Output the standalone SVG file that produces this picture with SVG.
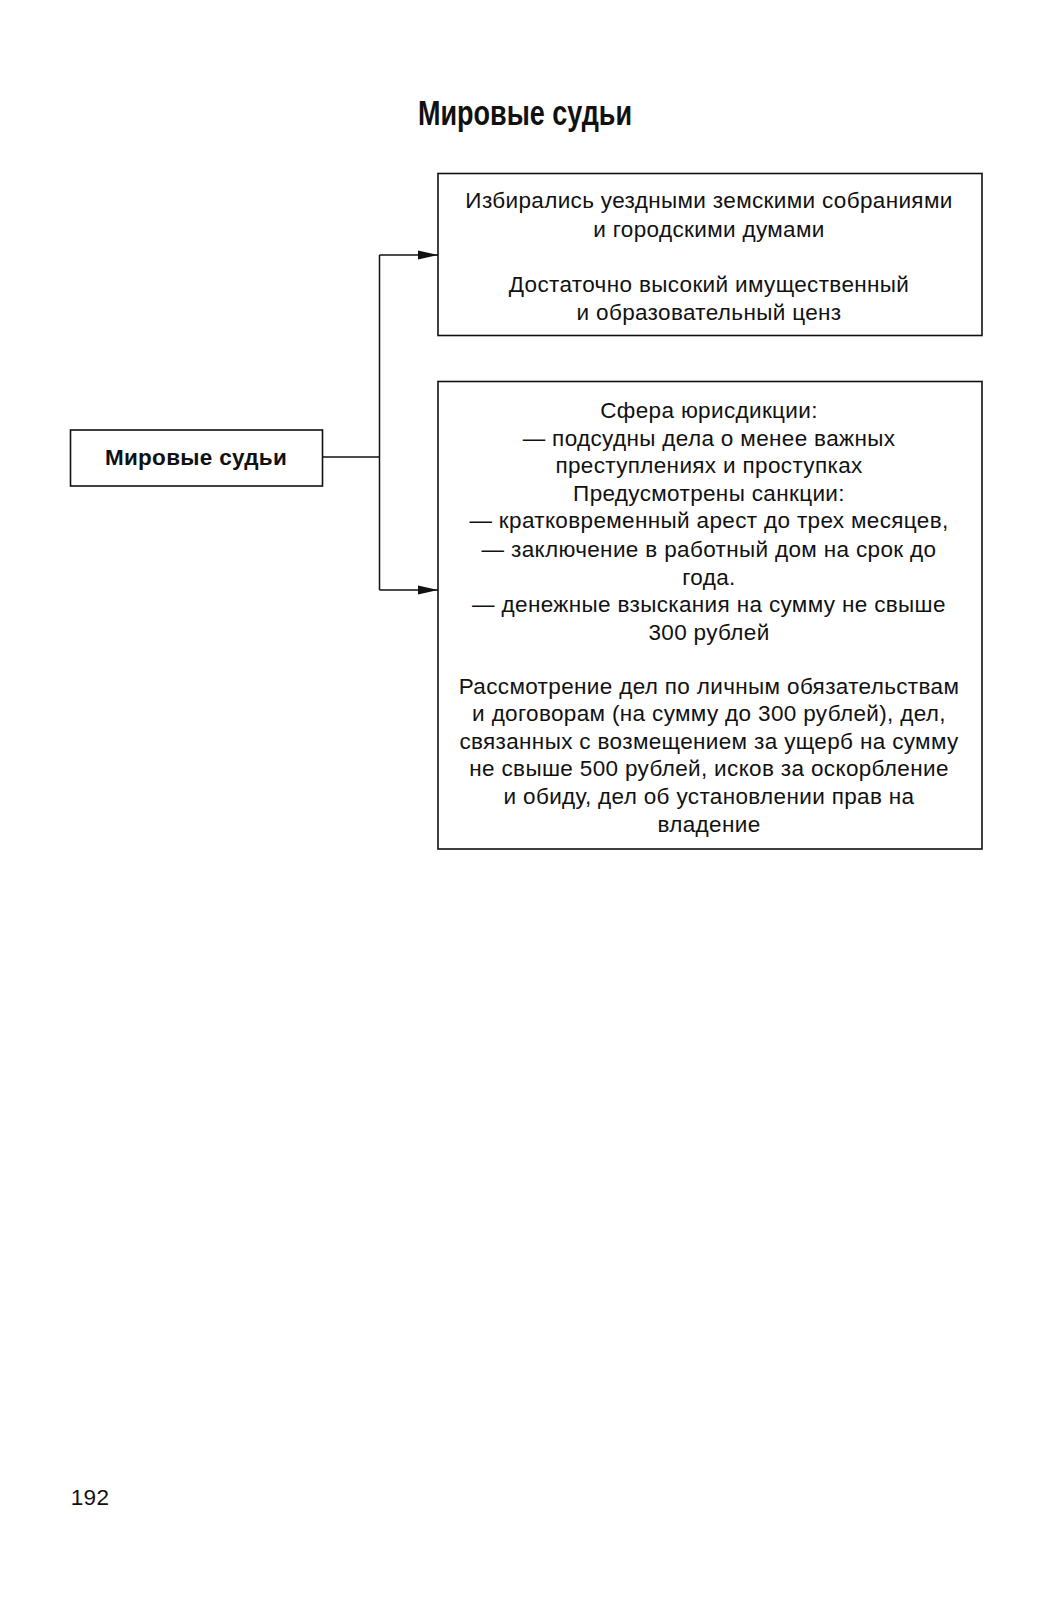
<svg xmlns="http://www.w3.org/2000/svg" width="1057" height="1600" viewBox="0 0 1057 1600">
<style>
.box{fill:#fff;stroke:#111;stroke-width:1.6}
.t{font-family:"Liberation Sans",Arial,sans-serif;font-size:22.5px;letter-spacing:0.35px;fill:#111;text-anchor:middle}
.b{font-family:"Liberation Sans",Arial,sans-serif;font-size:22.5px;font-weight:bold;letter-spacing:0.3px;fill:#111;text-anchor:middle}
.ttl{font-family:"Liberation Sans",Arial,sans-serif;font-size:35px;font-weight:bold;fill:#111;text-anchor:middle}
.c{fill:none;stroke:#111;stroke-width:1.5}
</style>
<defs>
<marker id="ar" markerWidth="20" markerHeight="11" refX="20" refY="5.5" orient="auto" markerUnits="userSpaceOnUse">
<path d="M0,1 L20,5.5 L0,10 Z" fill="#111"/>
</marker>
</defs>
<rect width="1057" height="1600" fill="#fff"/>
<text class="ttl" x="525" y="124.5" textLength="214" lengthAdjust="spacingAndGlyphs">Мировые судьи</text>
<g id="connectors">
<path class="c" d="M322,457 H379.5"/>
<path class="c" d="M379.5,255 V590"/>
<path class="c" d="M379.5,255 H438" marker-end="url(#ar)"/>
<path class="c" d="M379.5,590 H438" marker-end="url(#ar)"/>
</g>
<g id="node-main">
<rect class="box" x="70.5" y="430" width="252" height="56"/>
<text class="b" x="196" y="465">Мировые судьи</text>
</g>
<g id="node-election">
<rect class="box" x="438" y="173.5" width="544" height="162"/>
<text class="t" x="709" y="208">Избирались уездными земскими собраниями</text>
<text class="t" x="709" y="236.5">и городскими думами</text>
<text class="t" x="709" y="291.5">Достаточно высокий имущественный</text>
<text class="t" x="709" y="320">и образовательный ценз</text>
</g>
<g id="node-jurisdiction">
<rect class="box" x="438" y="381.5" width="544" height="467.5"/>
<text class="t" x="709" y="418">Сфера юрисдикции:</text>
<text class="t" x="709" y="445.5">— подсудны дела о менее важных</text>
<text class="t" x="709" y="473">преступлениях и проступках</text>
<text class="t" x="709" y="501">Предусмотрены санкции:</text>
<text class="t" x="709" y="528">— кратковременный арест до трех месяцев,</text>
<text class="t" x="709" y="557">— заключение в работный дом на срок до</text>
<text class="t" x="709" y="584.5">года.</text>
<text class="t" x="709" y="612">— денежные взыскания на сумму не свыше</text>
<text class="t" x="709" y="639.5">300 рублей</text>
<text class="t" x="709" y="693.5">Рассмотрение дел по личным обязательствам</text>
<text class="t" x="709" y="721">и договорам (на сумму до 300 рублей), дел,</text>
<text class="t" x="709" y="749">связанных с возмещением за ущерб на сумму</text>
<text class="t" x="709" y="776">не свыше 500 рублей, исков за оскорбление</text>
<text class="t" x="709" y="804">и обиду, дел об установлении прав на</text>
<text class="t" x="709" y="831.5">владение</text>
</g>
<text class="t" x="90" y="1505">192</text>
</svg>
